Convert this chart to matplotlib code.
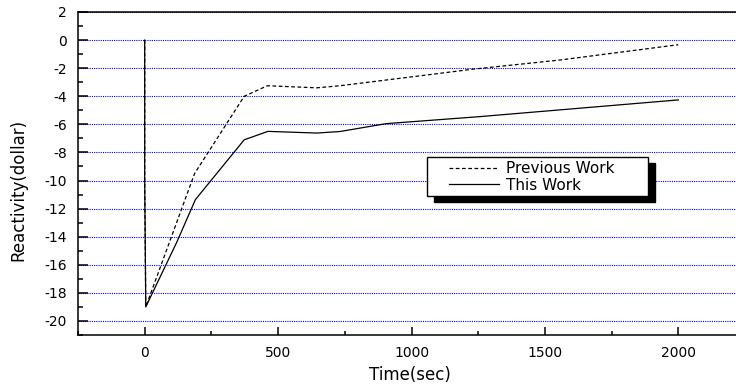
import matplotlib
matplotlib.use("Agg")
import matplotlib.pyplot as plt
from matplotlib.patches import Rectangle
from matplotlib.ticker import MultipleLocator

plt.rcParams['font.family'] = ['DejaVu Sans']
plt.rcParams['axes.unicode_minus'] = False

# Data
time_prev = [0, 0, 4, 187, 373, 460, 645, 732, 1000, 1231, 1556, 2000]
react_prev = [0, -10, -19, -9.5, -4.0, -3.25, -3.4, -3.25, -2.62, -2.07, -1.42, -0.33]

time_this = [0, 0, 4, 120, 190, 373, 462, 645, 732, 905, 1256, 1556, 2000]
react_this = [0, -10, -19, -14.4, -11.36, -7.1, -6.5, -6.62, -6.51, -5.95, -5.45, -4.97, -4.26]

series_labels = ["Previous Work", "This Work"]
x_label = "Time(sec)"
y_label = "Reactivity(dollar)"

W, H = 736, 392
fig = plt.figure(figsize=(W / 100, H / 100), dpi=100)
ax = fig.add_axes([78 / W, 57 / H, 667 / W, 323 / H])

ax.yaxis.grid(True, which='major', color='#0000ff', linestyle=(0, (1, 1)), linewidth=0.8, zorder=0)
ax.set_axisbelow(True)

l1, = ax.plot(time_prev, react_prev, color='black', linewidth=0.9, linestyle=(0, (3, 2)), zorder=2)
l2, = ax.plot(time_this, react_this, color='black', linewidth=0.9, linestyle='-', zorder=2)

ax.set_xlim(-250, 2250)
ax.set_ylim(-21, 2)
ax.xaxis.set_major_locator(MultipleLocator(500))
ax.xaxis.set_minor_locator(MultipleLocator(250))
ax.yaxis.set_major_locator(MultipleLocator(2))
ax.yaxis.set_minor_locator(MultipleLocator(1))

ax.spines['right'].set_visible(False)
for s in ['left', 'top', 'bottom']:
    ax.spines[s].set_linewidth(1.1)

ax.tick_params(which='both', direction='in', width=1.1, labelsize=10, colors='black')
ax.tick_params(axis='x', which='major', length=5.5, pad=8)
ax.tick_params(axis='x', which='minor', length=2.8)
ax.tick_params(axis='y', which='major', length=7, pad=8)
ax.tick_params(axis='y', which='minor', length=3.5)

ax.set_xlabel(x_label, fontsize=12)
ax.set_ylabel(y_label, fontsize=12)
ax.xaxis.set_label_coords((410 - 78) / 667, (335 - 366) / 323)
ax.yaxis.set_label_coords((27 - 78) / 667, (335 - 190) / 323)

# Legend box with black drop shadow
bx0, by0, bw, bh = 427 / W, 1 - 196 / H, 221 / W, 39 / H
shadow = Rectangle((434 / W, 1 - 202 / H), bw, bh, transform=fig.transFigure,
                   facecolor='black', edgecolor='black', clip_on=False, zorder=4)
box = Rectangle((bx0, by0), bw, bh, transform=fig.transFigure,
                facecolor='white', edgecolor='black', linewidth=1.0, clip_on=False, zorder=4.1)
ax.add_patch(shadow)
ax.add_patch(box)
leg = ax.legend([l1, l2], series_labels, loc='center left',
                bbox_to_anchor=(449 / W, 1 - 177 / H), bbox_transform=fig.transFigure,
                frameon=False, fontsize=11, handlelength=3.3, handletextpad=0.45,
                labelspacing=0.1, borderpad=0, borderaxespad=0)
leg.set_zorder(5)

fig.savefig("out.png", dpi=100)
